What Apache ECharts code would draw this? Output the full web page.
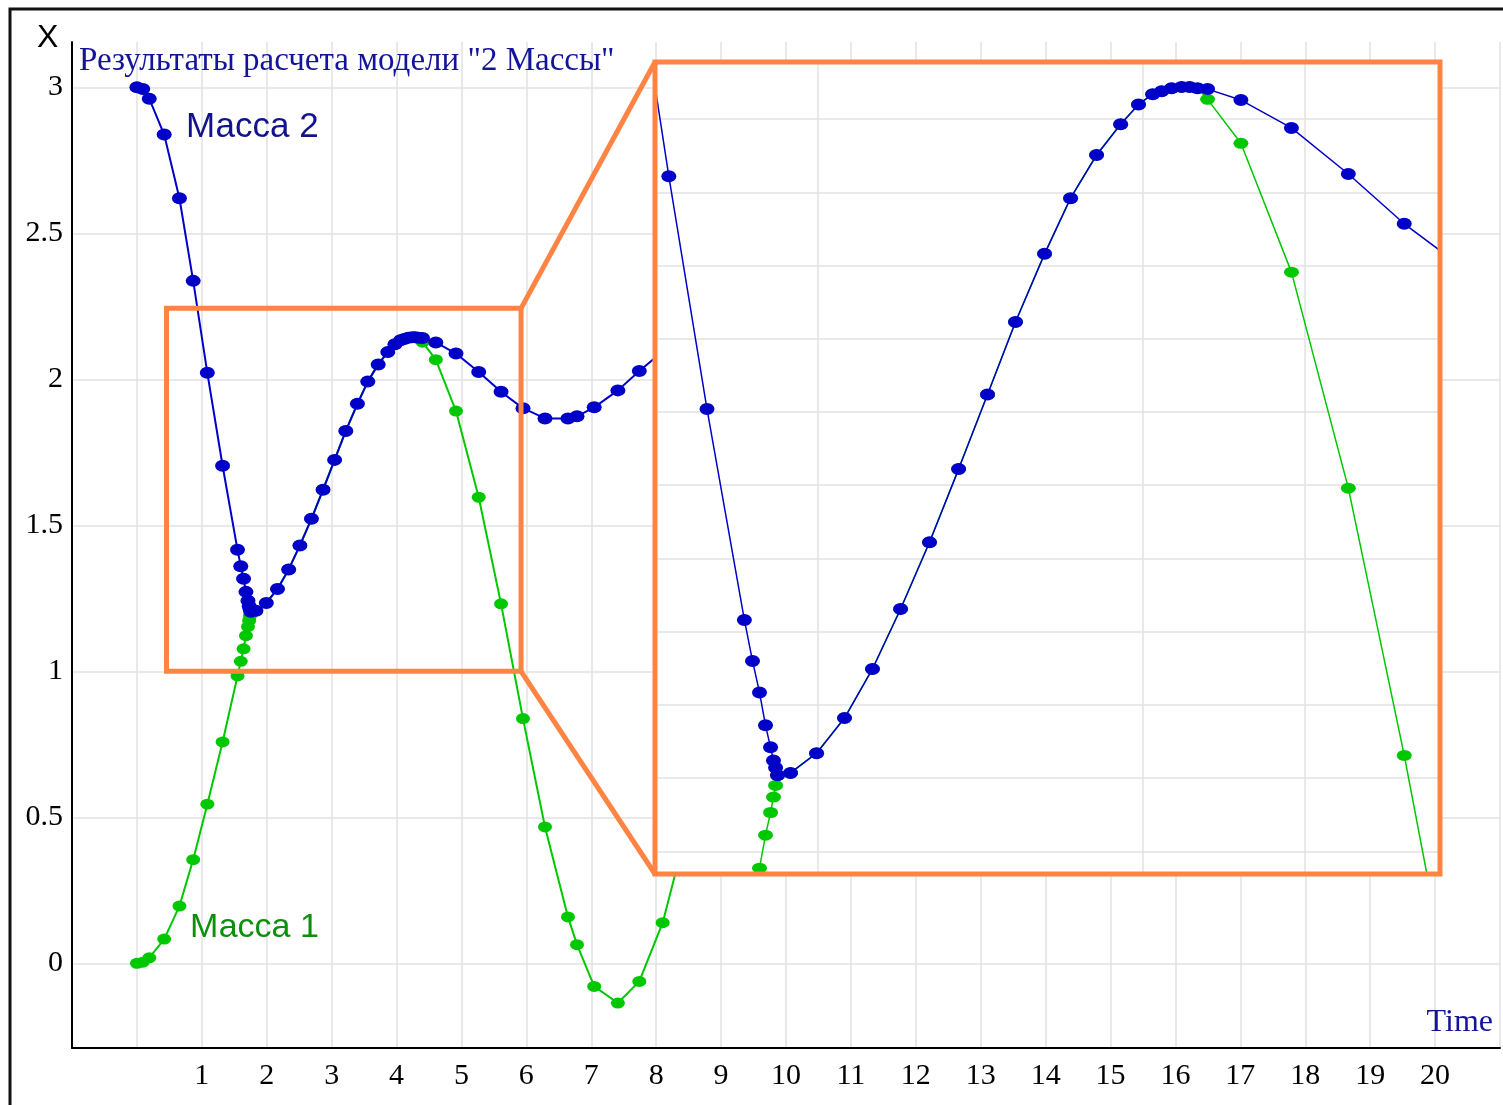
<!DOCTYPE html>
<html><head><meta charset="utf-8">
<script src="https://cdn.jsdelivr.net/npm/echarts@6/dist/echarts.min.js"></script>
<style>html,body{margin:0;padding:0;background:#fff}#c{width:1503px;height:1105px}</style>
</head><body><div id="c"></div>
<script>
// ---- data ----
const timeValues = [0, 0.09, 0.19, 0.42, 0.655, 0.867, 1.085, 1.32, 1.55, 1.600, 1.643, 1.680, 1.711, 1.729, 1.742, 1.754, 1.834, 1.994, 2.166, 2.338, 2.511, 2.689, 2.868, 3.046, 3.218, 3.397, 3.557, 3.717, 3.865, 3.975, 4.062, 4.117, 4.178, 4.240, 4.289, 4.338, 4.400, 4.605, 4.916, 5.266, 5.610, 5.948, 6.287, 6.641, 6.780, 7.045, 7.41, 7.74, 8.10, 8.45];
const mass2Values = [3.000, 2.994, 2.961, 2.838, 2.620, 2.337, 2.022, 1.704, 1.416, 1.360, 1.317, 1.272, 1.242, 1.224, 1.214, 1.204, 1.207, 1.234, 1.282, 1.349, 1.431, 1.522, 1.622, 1.724, 1.823, 1.916, 1.992, 2.051, 2.093, 2.120, 2.134, 2.138, 2.142, 2.144, 2.144, 2.142, 2.141, 2.126, 2.088, 2.025, 1.957, 1.901, 1.866, 1.866, 1.873, 1.904, 1.962, 2.028, 2.095, 2.16];
const mass1Values = [0, 0.004, 0.019, 0.083, 0.196, 0.355, 0.545, 0.758, 0.984, 1.034, 1.077, 1.122, 1.153, 1.174, 1.190, 1.204, 1.207, 1.234, 1.282, 1.349, 1.431, 1.522, 1.622, 1.724, 1.823, 1.916, 1.992, 2.051, 2.093, 2.120, 2.134, 2.138, 2.142, 2.144, 2.144, 2.142, 2.127, 2.067, 1.891, 1.596, 1.231, 0.838, 0.467, 0.159, 0.064, -0.079, -0.136, -0.062, 0.139, 0.44];
const xTickLabels = ['1','2','3','4','5','6','7','8','9','10','11','12','13','14','15','16','17','18','19','20'];
const yTickValues = [0, 0.5, 1, 1.5, 2, 2.5, 3];
const insetXTicks = [2, 4, 5];
const insetYTicks = [1.1, 1.2, 1.3, 1.4, 1.5, 1.6, 1.7, 1.8, 1.9, 2.0, 2.1];
const zoomX = [0.456, 5.918];
const zoomY = [1.0, 2.243];
const titleText = 'Результаты расчета модели "2 Массы"';
const seriesNames = ['Масса 1', 'Масса 2'];

// ---- build ----
const pairs = vals => timeValues.map((t, i) => [t, vals[i]]);
const BLUE = '#0000C8', GREEN = '#00C800', ORANGE = '#FF8444', GRID = '#e2e2e2';
const INSET = {left: 655, top: 62, width: 785, height: 812};

const chart = echarts.init(document.getElementById('c'), null, {renderer: 'canvas'});

const serif = 'Liberation Serif';
const option = {
  animation: false,
  backgroundColor: '#fff',
  grid: [
    {left: 72, top: 42, right: 3, bottom: 57, containLabel: false},
    {left: INSET.left, top: INSET.top, width: INSET.width, height: INSET.height, containLabel: false}
  ],
  xAxis: [
    {type: 'value', gridIndex: 0, min: -1, max: 21, interval: 1,
     axisLine: {show: true, onZero: false, lineStyle: {color: '#000', width: 2}},
     axisTick: {show: false},
     axisLabel: {fontFamily: serif, fontSize: 30, color: '#000', margin: 13,
       formatter: v => (xTickLabels.indexOf(String(v)) >= 0 ? String(v) : '')},
     splitLine: {show: true, lineStyle: {color: GRID, width: 1.5}}},
    {type: 'value', gridIndex: 1, min: 1.0, max: 5.83, z: 6,
     axisLine: {show: false}, axisTick: {show: false, customValues: insetXTicks},
     axisLabel: {show: false, customValues: insetXTicks},
     splitLine: {show: true, lineStyle: {color: GRID, width: 1.5}}}
  ],
  yAxis: [
    {type: 'value', gridIndex: 0, min: -0.29, max: 3.155,
     axisLine: {show: true, onZero: false, lineStyle: {color: '#000', width: 2}},
     axisTick: {show: false, customValues: yTickValues},
     axisLabel: {customValues: yTickValues, fontFamily: serif, fontSize: 30, color: '#000', margin: 9,
       formatter: v => String(v)},
     splitLine: {show: true, lineStyle: {color: GRID, width: 1.5}}},
    {type: 'value', gridIndex: 1, min: 1.069, max: 2.178, z: 6,
     axisLine: {show: false}, axisTick: {show: false, customValues: insetYTicks},
     axisLabel: {show: false, customValues: insetYTicks},
     splitLine: {show: true, lineStyle: {color: GRID, width: 1.5}}}
  ],
  series: [
    {name: seriesNames[0], type: 'line', xAxisIndex: 0, yAxisIndex: 0, data: pairs(mass1Values), z: 2,
     symbol: 'circle', symbolSize: [14, 11], showSymbol: true,
     lineStyle: {color: GREEN, width: 2}, itemStyle: {color: GREEN}},
    {name: seriesNames[1], type: 'line', xAxisIndex: 0, yAxisIndex: 0, data: pairs(mass2Values), z: 3,
     symbol: 'circle', symbolSize: [15, 12], showSymbol: true,
     lineStyle: {color: BLUE, width: 2}, itemStyle: {color: BLUE}},
    {name: seriesNames[0] + ' (zoom)', type: 'line', xAxisIndex: 1, yAxisIndex: 1, data: pairs(mass1Values), z: 7,
     clip: true, symbol: 'circle', symbolSize: [15, 11], showSymbol: true,
     lineStyle: {color: GREEN, width: 1.5}, itemStyle: {color: GREEN}},
    {name: seriesNames[1] + ' (zoom)', type: 'line', xAxisIndex: 1, yAxisIndex: 1, data: pairs(mass2Values), z: 8,
     clip: true, symbol: 'circle', symbolSize: [15, 12], showSymbol: true,
     lineStyle: {color: BLUE, width: 1.5}, itemStyle: {color: BLUE}}
  ],
  graphic: [
    {id: 'frame', type: 'rect', z: 1, silent: true,
     shape: {x: 10, y: 9, width: 1700, height: 1300},
     style: {fill: 'none', stroke: '#111', lineWidth: 3}},
    {id: 'cover', type: 'rect', z: 5, silent: true,
     shape: {x: INSET.left, y: INSET.top, width: INSET.width, height: INSET.height},
     style: {fill: '#fff'}},
    {id: 'xname', type: 'text', z: 20, x: 37, y: 38,
     style: {text: 'X', font: '32px "Liberation Sans"', fill: '#000', align: 'left', verticalAlign: 'middle'}},
    {id: 'title', type: 'text', z: 20, x: 79, y: 61,
     style: {text: titleText, font: '33px "Liberation Serif"', fill: '#14149a', align: 'left', verticalAlign: 'middle'}},
    {id: 'lab2', type: 'text', z: 20, x: 186, y: 127,
     style: {text: seriesNames[1], font: '35px "Liberation Sans"', fill: '#12128c', align: 'left', verticalAlign: 'middle'}},
    {id: 'lab1', type: 'text', z: 20, x: 190, y: 928,
     style: {text: seriesNames[0], font: '34px "Liberation Sans"', fill: '#0a900a', align: 'left', verticalAlign: 'middle'}},
    {id: 'tname', type: 'text', z: 20, x: 1493, y: 1023,
     style: {text: 'Time', font: '32px "Liberation Serif"', fill: '#14149a', align: 'right', verticalAlign: 'middle'}}
  ]
};
chart.setOption(option);

const p = (x, y) => chart.convertToPixel({gridIndex: 0}, [x, y]);
const tl = p(zoomX[0], zoomY[1]);
const br = p(zoomX[1], zoomY[0]);
chart.setOption({
  graphic: [
    {id: 'zrect', type: 'rect', z: 10, silent: true,
     shape: {x: tl[0], y: tl[1], width: br[0] - tl[0], height: br[1] - tl[1]},
     style: {fill: 'none', stroke: ORANGE, lineWidth: 5}},
    {id: 'conn1', type: 'line', z: 10, silent: true,
     shape: {x1: br[0], y1: tl[1], x2: INSET.left, y2: INSET.top},
     style: {stroke: ORANGE, lineWidth: 5}},
    {id: 'conn2', type: 'line', z: 10, silent: true,
     shape: {x1: br[0], y1: br[1], x2: INSET.left, y2: INSET.top + INSET.height},
     style: {stroke: ORANGE, lineWidth: 5}},
    {id: 'iborder', type: 'rect', z: 10, silent: true,
     shape: {x: INSET.left, y: INSET.top, width: INSET.width, height: INSET.height},
     style: {fill: 'none', stroke: ORANGE, lineWidth: 5}}
  ]
});
</script></body></html>
